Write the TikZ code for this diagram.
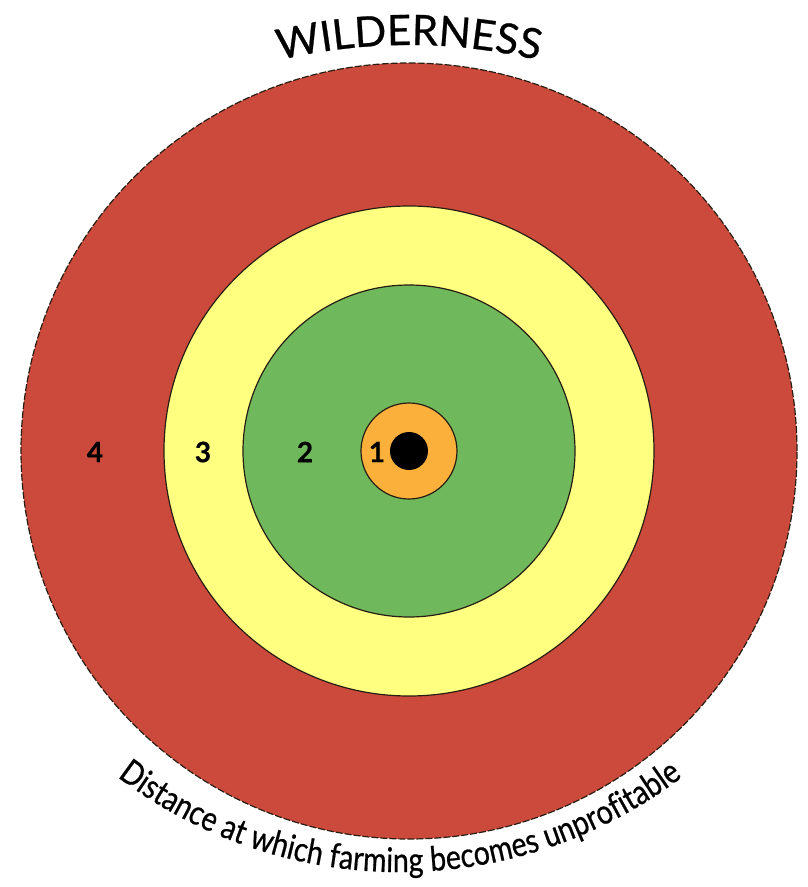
\documentclass[tikz,border=0pt]{standalone}
\usepackage{fontspec}
\usetikzlibrary{decorations.text}
\newfontfamily\ringfont[FakeBold=0.6]{Lato}
\newfontfamily\narrowfont[FakeStretch=0.84, FakeBold=0.6]{Lato}

\definecolor{zonered}{RGB}{204,74,59}
\definecolor{zoneyellow}{RGB}{255,255,128}
\definecolor{zonegreen}{RGB}{112,184,92}
\definecolor{zoneorange}{RGB}{251,176,59}
\definecolor{ringline}{RGB}{40,30,20}

\begin{document}
\begin{tikzpicture}[
        x=1pt, y=1pt,
        ring/.style={draw=ringline, line width=1.2pt},
        zonelabel/.style={font=\ringfont\bfseries\fontsize{28}{30}\selectfont, inner sep=0pt}
    ]
    \useasboundingbox (-409,-436) rectangle (398,451);
    \coordinate (town) at (0,0);

    \draw[ring, dash pattern=on 7pt off 2pt, fill=zonered] (town) circle[radius=388];
    \draw[ring, fill=zoneyellow] (town) circle[radius=245];
    \draw[ring, fill=zonegreen] (town) circle[radius=166];
    \draw[ring, fill=zoneorange] (town) circle[radius=48];
    \fill[black] (town) circle[radius=19];

    \node[zonelabel] (z4) at (-314,-1) {4};
    \node[zonelabel] (z3) at (-206,-1) {3};
    \node[zonelabel] (z2) at (-104,-1) {2};
    \node[zonelabel] (z1) at (-32,-1) {1};

    % curved captions
    \path[decorate, decoration={text along path, text align=center,
            text={|\ringfont\fontsize{42}{44}\selectfont|WILDERNESS}}]
        (0,-154) ++(120:560) arc[start angle=120, end angle=60, radius=560];
    \path[decorate, decoration={text along path, text align=center,
            text={|\narrowfont\fontsize{34}{36}\selectfont|Distance at which farming becomes unprofitable}}]
        (-9,46) ++(200:467) arc[start angle=200, end angle=340, radius=467];
\end{tikzpicture}
\end{document}
